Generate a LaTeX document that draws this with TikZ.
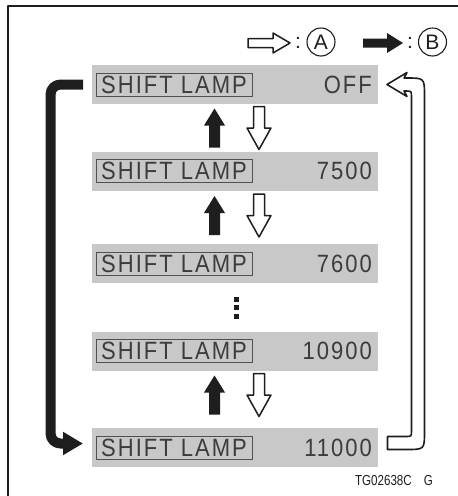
\documentclass[tikz,border=0pt]{standalone}
\usepackage{fontspec}
\setmainfont{Liberation Sans}
\newfontfamily\lcdfont[FakeStretch=0.88,LetterSpace=8]{Liberation Sans}
\newfontfamily\codefont[FakeStretch=0.8]{Liberation Sans}
\usetikzlibrary{arrows.meta}
\definecolor{lcdgray}{RGB}{200,200,200}
\definecolor{lcdtext}{RGB}{60,60,60}
\definecolor{inkblack}{RGB}{30,30,30}

\begin{document}
\begin{tikzpicture}[x=1pt,y=-1pt,line join=round,
	bar/.style={fill=lcdgray,minimum width=286pt,minimum height=39pt,inner sep=0pt},
	lampbox/.style={draw=lcdtext!90,line width=0.9pt,minimum width=156pt,minimum height=23pt,inner sep=0pt,text=lcdtext,font=\lcdfont\fontsize{25}{25}\selectfont},
	rpm/.style={anchor=east,inner sep=0pt,text=lcdtext,font=\lcdfont\fontsize{25}{25}\selectfont},
	letter/.style={circle,draw=inkblack,line width=1.1pt,minimum size=28pt,inner sep=0pt,text=inkblack,font=\fontsize{21}{21}\selectfont},
	colon/.style={inner sep=0pt,text=inkblack,font=\fontsize{21}{21}\selectfont},
	upfill/.pic={\fill[inkblack] (0,-19.5) -- (10.5,-2.5) -- (5.5,-2.5) -- (5.5,19.5) -- (-5.5,19.5) -- (-5.5,-2.5) -- (-10.5,-2.5) -- cycle;},
	downopen/.pic={\draw[inkblack,line width=1.5pt,fill=white] (-5.5,-21.5) -- (5.5,-21.5) -- (5.5,0) -- (12,0) -- (0,21.5) -- (-12,0) -- (-5.5,0) -- cycle;}]
	\clip (0,0) rectangle (458,496);
	
	% frame
	\draw[inkblack,line width=1.3pt] (8,500) |- (462,6);
	
	% legend
	\draw[inkblack,line width=1.5pt,fill=white] (248,38.5) -- (273,38.5) -- (273,33) -- (290,43) -- (273,53) -- (273,47.5) -- (248,47.5) -- cycle;
	\node[colon] (colA) at (298,43) {:};
	\node[letter] (circA) at (321,42) {A};
	\fill[inkblack] (363,38.5) -- (387,38.5) -- (387,33) -- (403,43) -- (387,53) -- (387,47.5) -- (363,47.5) -- cycle;
	\node[colon] (colB) at (410,43) {:};
	\node[letter] (circB) at (432.5,42) {B};
	
	% display bars
	\foreach \y/\v [count=\i] in {84.5/OFF,171.2/7500,263.5/7600,351/10900,447.8/11000}{
		\node[bar] (b\i) at (235,\y) {};
		\node[lampbox] (s\i) at (174,\y) {SHIFT LAMP};
		\node[rpm] (n\i) at (372,\y) {\v};
	}
	
	% up / down arrows between bars
	\foreach \y in {128,215.5,395}{
		\pic at (214.5,\y) {upfill};
		\pic at (259,\y) {downopen};
	}
	\foreach \y in {299,307.5,316}
		\fill[inkblack] (233.5,\y-2.5) rectangle ++(5,5);
	
	% side arrows
	\coordinate (lt) at (83,84.5);
	\coordinate (lb) at (83,443.5);
	\draw[inkblack,line width=10pt,rounded corners=10pt,-{Triangle[length=20pt,width=22pt]}] (lt) -- (50.5,84.5) |- (lb);
	
	\draw[inkblack,line width=1.6pt,fill=white] (387.5,436.5) -- (405.5,436.5) .. controls (411.5,436.5) .. (411.5,430.5) -- (411.5,97) .. controls (411.5,91) .. (405.5,91) -- (404,91) -- (407,96.5) -- (387,84.5) -- (407,72.5) -- (404,78) -- (406.5,78) .. controls (424.5,78) .. (424.5,96) -- (424.5,431.5) .. controls (424.5,449.5) .. (406.5,449.5) -- (387.5,449.5) -- cycle;
	
	% figure code
	\node[anchor=base east,inner sep=0pt,text=inkblack,font=\codefont\fontsize{14.5}{14.5}\selectfont] (code) at (412,485) {TG02638C};
	\node[anchor=base east,inner sep=0pt,text=inkblack,font=\codefont\fontsize{14.5}{14.5}\selectfont] (rev) at (433,485) {G};
\end{tikzpicture}
\end{document}
